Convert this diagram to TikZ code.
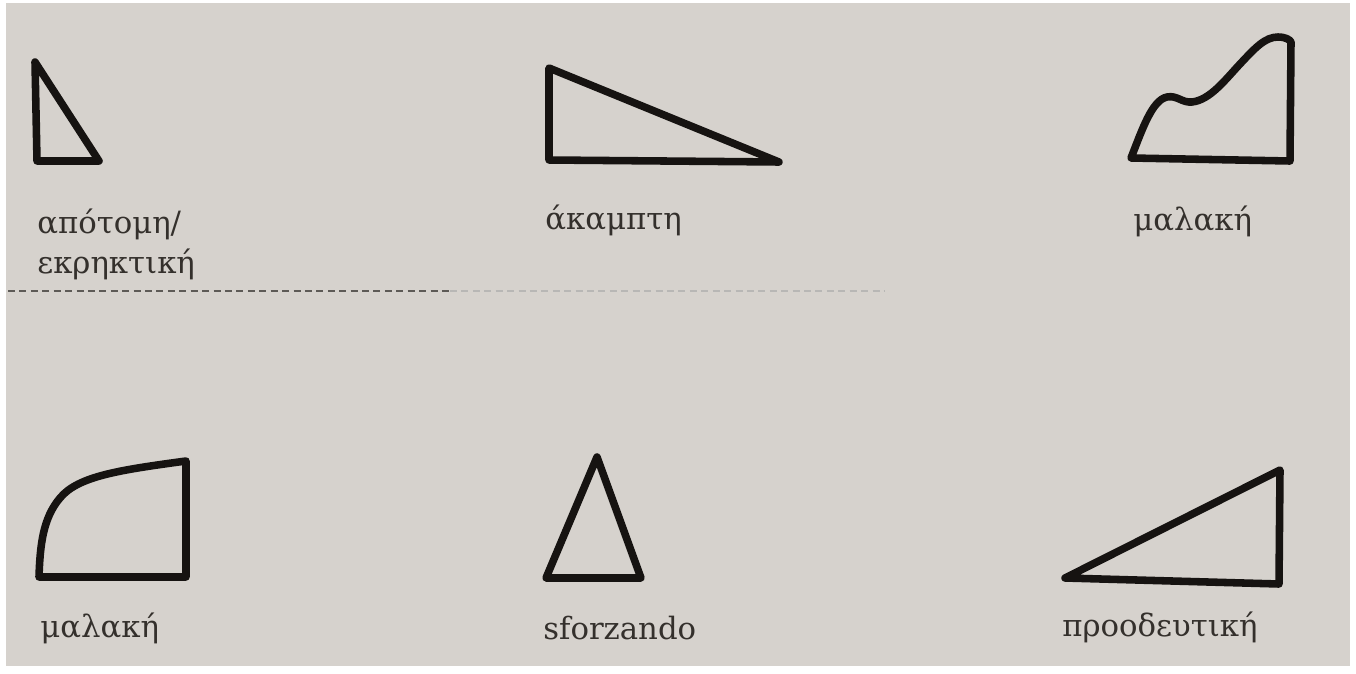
\documentclass[tikz,border=0pt]{standalone}
\usepackage{fontspec}
\setmainfont{DejaVu Serif}
\usepackage{xcolor}
\usetikzlibrary{positioning}

\definecolor{paperbg}{RGB}{214,210,205}
\definecolor{inkdark}{RGB}{22,19,17}
\definecolor{inktext}{RGB}{52,48,44}

\begin{document}
\begin{tikzpicture}[x=0.02cm, y=-0.02cm,
  envelope/.style = {draw=inkdark, line width=4.3pt, line join=round, line cap=round},
  lbl/.style      = {anchor=base west, inner sep=0pt,
                     font=\fontsize{17.5}{21}\selectfont, text=inktext},
  divider/.style  = {dashed, dash pattern=on 4pt off 2.5pt, line width=0.9pt},
]

%% ── Page ─────────────────────────────────────────────────────────────────────
\useasboundingbox (0,0) rectangle (1356,673);
\fill[white] (0,0) rectangle (1356,673);
\fill[paperbg] (6,3) rectangle (1350,666);

%% ── Top row ──────────────────────────────────────────────────────────────────
\draw[envelope] (35,62) -- (37,161) -- (99,161) -- cycle;
\node[lbl] (abrupt)  at (37,233) {απότομη/};
\node[lbl] (explode) at (37,273) {εκρηκτική};

\draw[envelope] (549,68) -- (549,160) -- (779,162) -- cycle;
\node[lbl] (rigid) at (545,229) {άκαμπτη};

\draw[envelope] (1131,158) .. controls (1142,130) and (1152,100) .. (1167,97)
  .. controls (1177,95) and (1182,103) .. (1192,102)
  .. controls (1210,100) and (1225,80) .. (1240,64)
  .. controls (1255,48) and (1265,37) .. (1278,37)
  .. controls (1286,37) and (1290,40) .. (1291,42)
  -- (1290,161) -- cycle;
\node[lbl] (softA) at (1133,230) {μαλακή};

%% ── Divider ──────────────────────────────────────────────────────────────────
\coordinate (divL) at (8,291);
\coordinate (divM) at (450,291);
\coordinate (divR) at (885,291);
\draw[divider, inktext!80] (divL) -- (divM);
\draw[divider, inktext!35] (divM) -- (divR);

%% ── Bottom row ───────────────────────────────────────────────────────────────
\draw[envelope] (39,577) -- (186,577) -- (186,461)
  .. controls (120,470) and (78,476) .. (60,498)
  .. controls (43,518) and (40,545) .. (39,577) -- cycle;
\node[lbl] (softB) at (40,637) {μαλακή};

\draw[envelope] (597,457) -- (546,578) -- (641,578) -- cycle;
\node[lbl] (sfz) at (543,639) {sforzando};

\draw[envelope] (1065,578) -- (1279,584) -- (1280,470) -- cycle;
\node[lbl] (gradual) at (1062,636) {προοδευτική};

\end{tikzpicture}
\end{document}
